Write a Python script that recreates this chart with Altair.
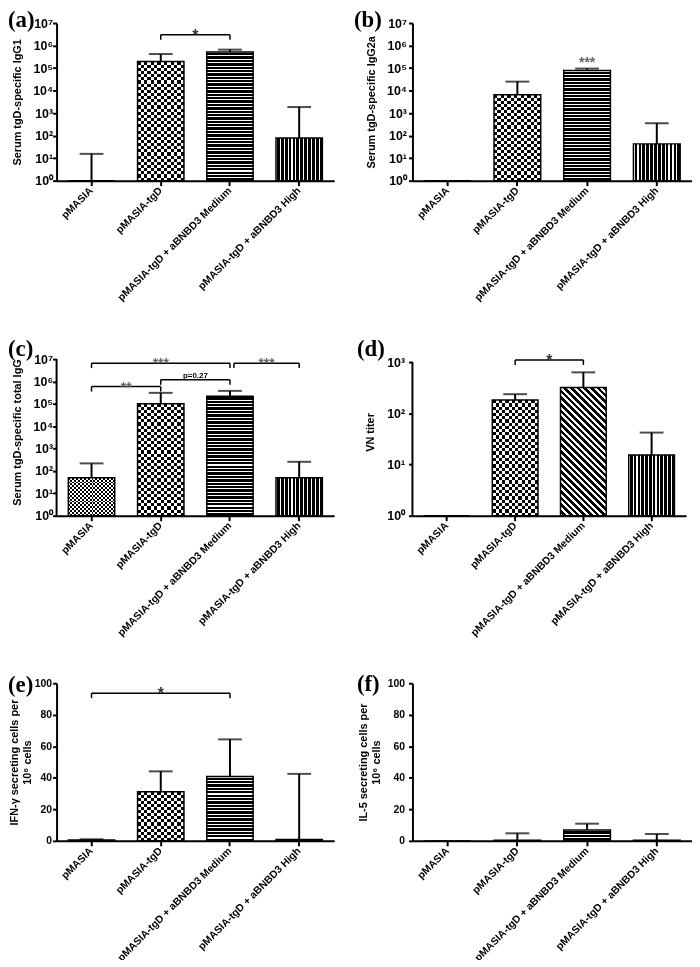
import math
import altair as alt
import pandas as pd

GROUPS = ["pMASIA", "pMASIA-tgD", "pMASIA-tgD + aBNBD3 Medium", "pMASIA-tgD + aBNBD3 High"]

# (a) Serum tgD-specific IgG1
igg1_mean = [1, 1.94e5, 5.2e5, 79]
igg1_upper = [15.5, 4.2e5, 6.6e5, 1860]
# (b) Serum tgD-specific IgG2a
igg2a_mean = [1, 6500, 7.8e4, 43]
igg2a_upper = [1, 2.5e4, 9.5e4, 355]
# (c) Serum tgD-specific total IgG
igg_mean = [50, 1.0e5, 2.2e5, 50]
igg_upper = [218, 3.1e5, 3.8e5, 257]
# (d) VN titer
vn_mean = [1, 181, 318, 15.4]
vn_upper = [1, 236, 630, 42]
# (e) IFN-gamma secreting cells per 10^6 cells
ifn_mean = [0.6, 31.2, 40.8, 0.8]
ifn_upper = [1.0, 44.1, 64.4, 42.5]
# (f) IL-5 secreting cells per 10^6 cells
il5_mean = [0, 0.4, 6.9, 0.4]
il5_upper = [0, 4.8, 10.9, 4.4]

# significance brackets: (from group idx, to group idx, y value, label)
brackets_a = [(1, 2, 3.0e6, "*")]
brackets_c = [(0, 1, 5.9e5, "**"), (1, 2, 1.2e6, "p=0.27"), (0, 2, 6.6e6, "***"), (2, 3, 6.6e6, "***")]
brackets_d = [(1, 2, 1.1e3, "*")]
brackets_e = [(0, 2, 93.7, "*")]
stars_b = [(2, 1.3e5, "***")]

LOG_TICKS = [1, 10, 100, 1e3, 1e4, 1e5, 1e6, 1e7]
VN_TICKS = [1, 10, 100, 1000]
LIN_TICKS = [0, 20, 40, 60, 80, 100]

PI, PO = 0.33, 0.17
FONT = "Liberation Sans"
SUP = "⁰¹²³⁴⁵⁶⁷"


def px_height(v, H, kind, dom):
    if kind == "log":
        if v <= dom[0]:
            return 0.0
        return H * (math.log10(v) - math.log10(dom[0])) / (math.log10(dom[1]) - math.log10(dom[0]))
    return H * (v - dom[0]) / (dom[1] - dom[0])


def stripe_grad(n, frac, ca, cb, x1, y1, x2, y2):
    n = max(1, int(round(n)))
    stops = []
    for k in range(n):
        a = round(k / n, 5)
        b = round((k + frac) / n, 5)
        c = round((k + 1) / n, 5)
        stops += [{"offset": a, "color": ca}, {"offset": b, "color": ca},
                  {"offset": b, "color": cb}, {"offset": c, "color": cb}]
    return {"gradient": "linear", "stops": stops, "x1": x1, "y1": y1, "x2": x2, "y2": y2}


def pattern_layers(kind, h, w, base):
    if h < 0.5 or kind is None:
        return []
    if kind in ("checker", "fine"):
        p = 6.4 if kind == "checker" else 4.0
        A = stripe_grad(h / p, 0.5, "white", "black", 0, 0, 0, 1)
        B = stripe_grad(w / p, 0.5, "white", "black", 0, 0, 1, 0)
        return [base(fill=A), base(fill=B, blend="difference")]
    if kind == "hstripe":
        return [base(fill=stripe_grad(h / 3.4, 0.3, "white", "black", 0, 0, 0, 1))]
    if kind == "vstripe":
        return [base(fill=stripe_grad(w / 4.0, 0.3, "white", "black", 0, 0, 1, 0))]
    if kind == "diag":
        a = w / (w + h)
        b = -h / (w + h)
        s = a * a + b * b
        dx, dy = a / s, b / s
        return [base(fill=stripe_grad((w + h) / 6.7, 0.45, "white", "black", 0, 1, round(dx, 4), round(1 + dy, 4)))]
    return []


def make_panel(means, uppers, W, H, kind, dom, yvals, ytitle, patterns, label, lpos,
               brackets=(), stars=(), lab_size=12.5, extra_top=0, lab_pad=1, title_pad=10):
    df = pd.DataFrame({"group": GROUPS, "mean": means, "upper": uppers})
    xs = alt.Scale(domain=GROUPS, paddingInner=PI, paddingOuter=PO)
    xax = alt.Axis(title=None, labelAngle=-45, labelAlign="right", labelBaseline="middle",
                   labelFontSize=10.5, labelPadding=3, labelLimit=400, zindex=1, tickSize=5)
    vis_top = dom[1]
    Htot = H + extra_top
    common = dict(title=ytitle, titleFontSize=11, labelFontSize=lab_size, labelPadding=lab_pad,
                  zindex=1, titlePadding=title_pad, titleLineHeight=13,
                  domain=(extra_top == 0), tickSize=4)
    if kind == "log":
        lo, hi = math.log10(dom[0]), math.log10(dom[1])
        dom_used = [dom[0], 10 ** (lo + (hi - lo) * Htot / H)]
        lexpr = ("'10' + substring('%s', round(log(datum.value)/LN10), "
                 "round(log(datum.value)/LN10) + 1)" % SUP)
        yax = alt.Axis(values=yvals, labelExpr=lexpr, **common)
        ys = alt.Scale(type="log", domain=dom_used, nice=False)
        base_val = dom[0]
    else:
        dom_used = [dom[0], dom[0] + (dom[1] - dom[0]) * Htot / H]
        yax = alt.Axis(values=yvals, **common)
        ys = alt.Scale(type="linear", domain=dom_used, nice=False)
        base_val = 0
    xenc = alt.X("group:N", sort=GROUPS, scale=xs, axis=xax)
    step = W / (len(GROUPS) - PI + 2 * PO)
    bw = step * (1 - PI)

    layers = []
    for g, m, pat in zip(GROUPS, means, patterns):
        h = px_height(m, H, kind, dom)

        def base(g=g, **kw):
            return (alt.Chart(df).mark_bar(**kw)
                    .encode(x=xenc, y=alt.Y("mean:Q", scale=ys, axis=yax), y2=alt.datum(base_val))
                    .transform_filter(alt.datum.group == g))
        layers += pattern_layers(pat, h, bw, base)

    layers.append(alt.Chart(df).mark_bar(fillOpacity=0, stroke="black", strokeWidth=1.5)
                  .encode(x=xenc, y=alt.Y("mean:Q", scale=ys, axis=yax), y2=alt.datum(base_val)))
    err = alt.Chart(df).transform_filter("datum.upper > datum.mean")
    layers.append(err.mark_rule(color="black", strokeWidth=2)
                  .encode(x=xenc, y=alt.Y("mean:Q", scale=ys, axis=yax), y2="upper:Q"))
    layers.append(err.mark_tick(color="black", size=24, thickness=2)
                  .encode(x=xenc, y=alt.Y("upper:Q", scale=ys, axis=yax)))

    if extra_top:
        layers.append(alt.Chart(alt.Data(values=[{"k": 1}])).mark_rule(color="black", strokeWidth=2)
                      .encode(x=alt.value(0), y=alt.datum(vis_top, scale=ys),
                              y2=alt.datum(dom[0])))

    for (i, j, yv, txt) in brackets:
        bd = pd.DataFrame({"g1": [GROUPS[i]], "g2": [GROUPS[j]], "y": [yv], "t": [txt]})
        sdx = 4 if i == 2 else 0
        bx1 = alt.X("g1:N", sort=GROUPS, scale=xs, axis=xax)
        bx2 = alt.X("g2:N", sort=GROUPS, scale=xs, axis=xax)
        by = alt.Y("y:Q", scale=ys, axis=yax)
        bc = alt.Chart(bd)
        layers.append(bc.mark_rule(color="black", strokeWidth=1.5, xOffset=sdx)
                      .encode(x=bx1, x2="g2:N", y=by))
        layers.append(bc.mark_rule(color="black", strokeWidth=1.5, xOffset=sdx, y2Offset=5)
                      .encode(x=bx1, y=by, y2="y:Q"))
        layers.append(bc.mark_rule(color="black", strokeWidth=1.5, y2Offset=5)
                      .encode(x=bx2, y=by, y2="y:Q"))
        if txt.startswith("p"):
            fs, col, tdy = 8, "black", -2
        elif txt == "*":
            fs, col, tdy = 16, "#333333", 6
        else:
            fs, col, tdy = 14, "#666666", 5
        layers.append(bc.mark_text(font=FONT, fontWeight="bold", fontSize=fs, color=col,
                                   baseline="alphabetic", align="center", dy=tdy,
                                   xOffset=sdx / 2 + (j - i) * step / 2)
                      .encode(x=bx1, y=by, text="t:N"))

    for (i, yv, txt) in stars:
        sd = pd.DataFrame({"g1": [GROUPS[i]], "y": [yv], "t": [txt]})
        layers.append(alt.Chart(sd).mark_text(font=FONT, fontWeight="bold", fontSize=14,
                                              color="#666666", baseline="alphabetic", dy=2)
                      .encode(x=alt.X("g1:N", sort=GROUPS, scale=xs, axis=xax),
                              y=alt.Y("y:Q", scale=ys, axis=yax), text="t:N"))

    layers.append(alt.Chart(alt.Data(values=[{"t": label}]))
                  .mark_text(font="Liberation Serif", fontWeight="bold", fontSize=23, color="black",
                             align="left", baseline="top")
                  .encode(x=alt.value(lpos[0]), y=alt.value(lpos[1]), text="t:N"))

    return alt.layer(*layers).properties(width=W, height=Htot)


pa = make_panel(igg1_mean, igg1_upper, 280, 159, "log", [1, 1e7], LOG_TICKS,
                "Serum tgD-specific IgG1", ["fine", "checker", "hstripe", "vstripe"],
                "(a)", (-49, -14), brackets=brackets_a, lab_pad=0, title_pad=10)
pb = make_panel(igg2a_mean, igg2a_upper, 282, 159, "log", [1, 1e7], LOG_TICKS,
                "Serum tgD-specific IgG2a", ["fine", "checker", "hstripe", "vstripe"],
                "(b)", (-59, -14), stars=stars_b, lab_pad=2, title_pad=10)
pc = make_panel(igg_mean, igg_upper, 280, 158, "log", [1, 1e7], LOG_TICKS,
                "Serum tgD-specific total IgG", ["fine", "checker", "hstripe", "vstripe"],
                "(c)", (-49, -10), brackets=brackets_c, extra_top=11, lab_pad=0, title_pad=10)
pd_ = make_panel(vn_mean, vn_upper, 276, 155, "log", [1, 1000], VN_TICKS,
                 "VN titer", ["fine", "checker", "diag", "vstripe"],
                 "(d)", (-56, -10), brackets=brackets_d, extra_top=14, lab_pad=4, title_pad=11)
pe = make_panel(ifn_mean, ifn_upper, 280, 159, "linear", [0, 100], LIN_TICKS,
                ["IFN-γ secreting cells per", "10⁶ cells"], ["fine", "checker", "hstripe", "vstripe"],
                "(e)", (-49, -9), brackets=brackets_e, lab_size=10.5, title_pad=2)
pf = make_panel(il5_mean, il5_upper, 282, 159, "linear", [0, 100], LIN_TICKS,
                ["IL-5 secreting cells per", "10⁶ cells"], ["fine", "checker", "hstripe", "vstripe"],
                "(f)", (-56, -10), lab_size=10.5, lab_pad=4, title_pad=6)

chart = (alt.concat(pa, pb, pc, pd_, pe, pf, columns=2, spacing={"row": 169, "column": 79},
                    bounds="flush")
         .properties(padding={"top": -3, "left": 0, "right": 0, "bottom": -8}, background="white")
         .configure_view(stroke=None)
         .configure_axis(domainColor="black", domainWidth=2, tickColor="black", tickWidth=2,
                         labelColor="black", labelFont=FONT, labelFontWeight="bold",
                         titleFont=FONT, titleFontWeight="bold", titleColor="black", grid=False))

chart.save("out.html", embed_options={"renderer": "svg", "actions": False})
